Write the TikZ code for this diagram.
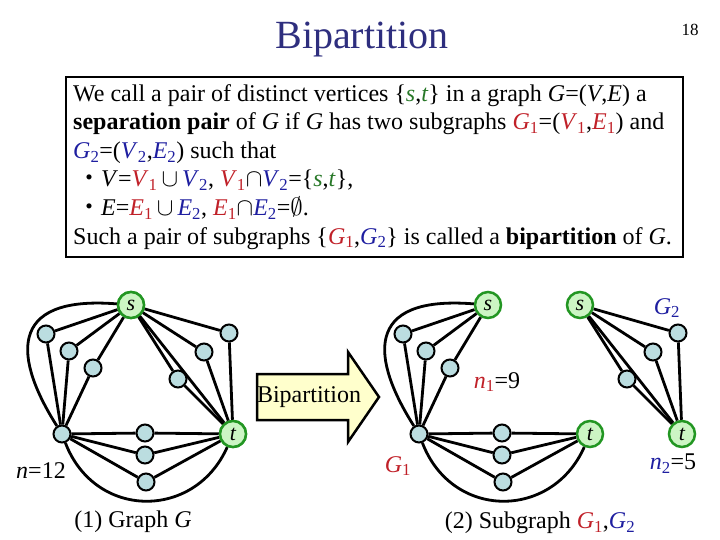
\documentclass[tikz,border=0pt]{standalone}
\usepackage{fontspec}
\setmainfont{Liberation Serif}
\newfontfamily\cjk{Noto Sans CJK JP}
\usetikzlibrary{positioning}

\definecolor{titleblue}{RGB}{46,46,126}
\definecolor{redG}{RGB}{192,32,40}
\definecolor{blueG}{RGB}{30,30,160}
\definecolor{greenST}{RGB}{40,120,40}
\definecolor{vfill}{RGB}{187,221,224}
\definecolor{tfill}{RGB}{204,245,196}
\definecolor{tdraw}{RGB}{34,150,34}
\definecolor{arrfill}{RGB}{255,255,204}

\newcommand{\rd}[2]{\textcolor{redG}{\textit{#1}\textsubscript{#2}}}
\newcommand{\bl}[2]{\textcolor{blueG}{\textit{#1}\textsubscript{#2}}}
\newcommand{\gr}[1]{\textcolor{greenST}{\textit{#1}}}

\begin{document}
\begin{tikzpicture}[x=1pt, y=-1pt,
    vtx/.style={circle, draw=black, fill=vfill, line width=2pt, minimum size=17pt, inner sep=0pt},
    term/.style={circle, draw=tdraw, fill=tfill, line width=2.5pt, minimum size=26pt, inner sep=0pt,
      font=\fontsize{22}{22}\selectfont\itshape},
    edge/.style={line width=2.8pt},
    lbl/.style={font=\fontsize{24}{24}\selectfont},
  ]
  \useasboundingbox (0,0) rectangle (720,540);

  % Title
  \node[font=\fontsize{40}{40}\selectfont, text=titleblue] (title) at (362,40) {Bipartition};
  \node[font=\fontsize{17}{17}\selectfont] (page) at (690,30) {18};

  % Definition
  \draw[line width=2.5pt] (66,77) rectangle (683,257);
  \node[anchor=north west, inner sep=0pt, align=left, font=\fontsize{24}{28.6}\selectfont] (defn) at (73,84)
    {We call a pair of distinct vertices \{\gr{s},\gr{t}\} in a graph \textit{G}=(\textit{V},\textit{E}) a\\
     \textbf{separation pair} of \textit{G} if \textit{G} has two subgraphs \rd{G}{1}=(\rd{V}{1},\rd{E}{1}) and\\
     \bl{G}{2}=(\bl{V}{2},\bl{E}{2}) such that\\
     \hspace*{4pt}{\cjk ・}\textit{V}=\rd{V}{1}\,$\cup$\,\bl{V}{2}, \rd{V}{1}$\cap$\bl{V}{2}=\{\gr{s},\gr{t}\},\\
     \hspace*{4pt}{\cjk ・}\textit{E}=\rd{E}{1}\,$\cup$\,\bl{E}{2}, \rd{E}{1}$\cap$\bl{E}{2}=$\emptyset$.\\
     Such a pair of subgraphs \{\rd{G}{1},\bl{G}{2}\} is called a \textbf{bipartition} of \textit{G}.};

  % G1 part: left graph and right copy
  \foreach \p/\dx in {A/0, B/357} {
    \begin{scope}[xshift=\dx]
      \node[term] (\p s) at (131,305) {s};
      \node[term] (\p t) at (233,434) {t};
      \node[vtx] (\p L) at (62,434) {};
      \foreach \n/\x/\y in {a1/46/334, a2/69/351, a3/93/368, c1/145/433, c2/145/455, c3/146/482}
        \node[vtx] (\p\n) at (\x,\y) {};
      \foreach \n in {a1,a2,a3}
        \draw[edge] (\p s) -- (\p\n) -- (\p L);
      \foreach \n in {c1,c2,c3}
        \draw[edge] (\p L) -- (\p\n) -- (\p t);
      \draw[edge] (\p s) .. controls (5,295) and (15,360) .. (\p L);
      \draw[edge] (\p L) .. controls (95,520) and (195,520) .. (\p t);
    \end{scope}
  }

  % G2 part: left graph and right copy
  \foreach \p/\dx in {A/0, C/449} {
    \begin{scope}[xshift=\dx]
      \node[term] (\p s) at (131,305) {s};
      \node[term] (\p t) at (233,434) {t};
      \foreach \n/\x/\y in {b1/229/333, b2/204/352, b3/178/379}
        \node[vtx] (\p\n) at (\x,\y) {};
      \draw[edge] (\p s) -- (\p t);
      \foreach \n in {b1,b2,b3}
        \draw[edge] (\p s) -- (\p\n) -- (\p t);
    \end{scope}
  }

  % Block arrow
  \draw[line width=2.5pt, fill=arrfill, line join=miter]
    (257,374) -- (348,374) -- (348,352) -- (379,397) -- (348,442) -- (348,420) -- (257,420) -- cycle;
  \node[lbl] (bip) at (309,397) {Bipartition};

  % Labels
  \node[lbl] (nA) at (41,471) {\textit{n}=12};
  \node[lbl] (capA) at (133,522) {(1) Graph \textit{G}};
  \node[lbl] (nB) at (497,382) {\rd{n}{1}=9};
  \node[lbl] (GB) at (398,466) {\rd{G}{1}};
  \node[lbl] (GC) at (667,308) {\bl{G}{2}};
  \node[lbl] (nC) at (673,464) {\bl{n}{2}=5};
  \node[lbl] (capB) at (540,523) {(2) Subgraph \rd{G}{1},\bl{G}{2}};
\end{tikzpicture}
\end{document}
